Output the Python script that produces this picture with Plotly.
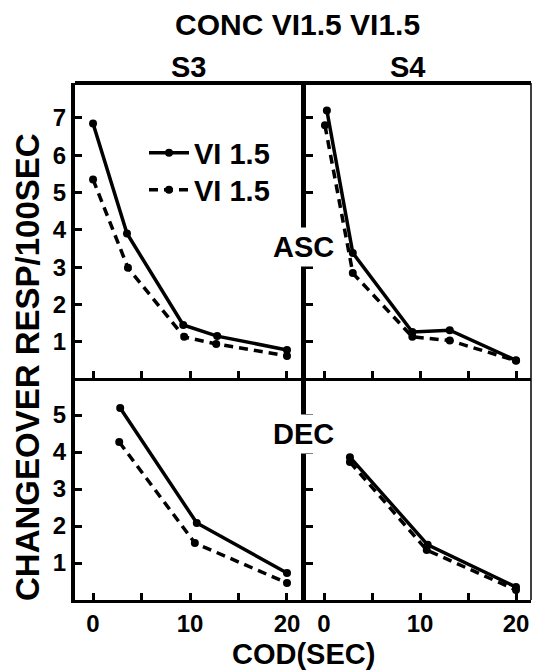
import plotly.graph_objects as go

# ---- data ----
series_names = ["VI 1.5", "VI 1.5"]

s3_asc_solid_x = [0, 3.5, 9.3, 12.8, 20]
s3_asc_solid_y = [6.85, 3.9, 1.45, 1.15, 0.78]
s3_asc_dash_x = [0, 3.6, 9.4, 12.7, 20]
s3_asc_dash_y = [5.35, 2.98, 1.13, 0.94, 0.62]

s4_asc_solid_x = [0.3, 3.0, 9.2, 13.1, 20]
s4_asc_solid_y = [7.2, 3.38, 1.26, 1.31, 0.5]
s4_asc_dash_x = [0.1, 3.0, 9.2, 13.1, 20]
s4_asc_dash_y = [6.8, 2.84, 1.13, 1.03, 0.49]

s3_dec_solid_x = [2.8, 10.7, 20]
s3_dec_solid_y = [5.19, 2.08, 0.73]
s3_dec_dash_x = [2.7, 10.5, 20]
s3_dec_dash_y = [4.27, 1.54, 0.46]

s4_dec_solid_x = [2.7, 10.8, 20]
s4_dec_solid_y = [3.86, 1.49, 0.35]
s4_dec_dash_x = [2.7, 10.7, 20]
s4_dec_dash_y = [3.73, 1.35, 0.27]

x_tickvals = [0, 5, 10, 15, 20]
x_ticktext = ["0", "", "10", "", "20"]
y_top_ticks = [1, 2, 3, 4, 5, 6, 7]
y_bot_ticks = [1, 2, 3, 4, 5]

FONT = "Liberation Sans, Arial, sans-serif"
W, H = 533, 670
ML, MT, MR, MB = 75, 83, 2, 70
PW, PH = W - ML - MR, H - MT - MB   # 456 x 517


def px(sx):   # screen x -> paper
    return (sx - ML) / PW


def py(sy):   # screen y -> paper
    return 1 - (sy - MT) / PH


fig = go.Figure()

panels = [
    ("x", "y", s3_asc_solid_x, s3_asc_solid_y, s3_asc_dash_x, s3_asc_dash_y, True),
    ("x2", "y2", s4_asc_solid_x, s4_asc_solid_y, s4_asc_dash_x, s4_asc_dash_y, False),
    ("x3", "y3", s3_dec_solid_x, s3_dec_solid_y, s3_dec_dash_x, s3_dec_dash_y, False),
    ("x4", "y4", s4_dec_solid_x, s4_dec_solid_y, s4_dec_dash_x, s4_dec_dash_y, False),
]
for xa, ya, sx, sy, dx, dy, show in panels:
    fig.add_trace(go.Scatter(x=sx, y=sy, xaxis=xa, yaxis=ya, mode="lines+markers",
                             name=series_names[0], showlegend=show, legend="legend",
                             line=dict(color="black", width=3.5),
                             marker=dict(color="black", size=8), cliponaxis=False,
                             hoverinfo="skip"))
    fig.add_trace(go.Scatter(x=dx, y=dy, xaxis=xa, yaxis=ya, mode="lines+markers",
                             name=series_names[1], showlegend=show, legend="legend2",
                             line=dict(color="black", width=3.5, dash="9px,6px"),
                             marker=dict(color="black", size=8), cliponaxis=False,
                             hoverinfo="skip"))

XSPLIT = (306 - ML) / PW
YSPLIT = 1 - (378 - MT) / PH

tickfont = dict(family=FONT, size=24, color="black", weight="bold")
common_x = dict(tickmode="array", tickvals=x_tickvals, ticks="inside", ticklen=7,
                tickwidth=3, tickcolor="black", showline=True, linecolor="black",
                showgrid=False, zeroline=False, fixedrange=True, tickfont=tickfont)
common_y = dict(ticks="inside", ticklen=7, tickwidth=3, tickcolor="black",
                showline=True, linecolor="black", showgrid=False, zeroline=False,
                fixedrange=True, tickfont=tickfont)

legfont = dict(family=FONT, size=29, color="black", weight="bold")
fig.update_layout(
    width=W, height=H,
    margin=dict(l=ML, r=MR, t=MT, b=MB),
    paper_bgcolor="white", plot_bgcolor="white",
    font=dict(family=FONT, color="black"),
    hovermode=False,
    xaxis=dict(domain=[0, XSPLIT], anchor="y", range=[-1.86, 21.96],
               showticklabels=False, linewidth=3, **common_x),
    xaxis2=dict(domain=[XSPLIT, 1], anchor="y2", range=[-1.875, 21.56],
                showticklabels=False, linewidth=3, **common_x),
    xaxis3=dict(domain=[0, XSPLIT], anchor="y3", range=[-1.86, 21.96],
                ticktext=x_ticktext, linewidth=3, **common_x),
    xaxis4=dict(domain=[XSPLIT, 1], anchor="y4", range=[-1.875, 21.56],
                ticktext=x_ticktext, linewidth=3, **common_x),
    yaxis=dict(domain=[YSPLIT, 1], anchor="x", range=[0.027, 7.936],
               tickmode="array", tickvals=y_top_ticks, linewidth=4, **common_y),
    yaxis2=dict(domain=[YSPLIT, 1], anchor="x2", range=[0.027, 7.936],
                tickmode="array", tickvals=y_top_ticks, showticklabels=False,
                linewidth=5, **common_y),
    yaxis3=dict(domain=[0, YSPLIT], anchor="x3", range=[0, 6.0],
                tickmode="array", tickvals=y_bot_ticks, linewidth=4, **common_y),
    yaxis4=dict(domain=[0, YSPLIT], anchor="x4", range=[0, 6.0],
                tickmode="array", tickvals=y_bot_ticks, showticklabels=False,
                linewidth=5, **common_y),
    legend=dict(x=px(144), y=py(153), xanchor="left", yanchor="middle",
                bgcolor="rgba(0,0,0,0)", borderwidth=0, font=legfont, itemwidth=40),
    legend2=dict(x=px(144), y=py(190), xanchor="left", yanchor="middle",
                 bgcolor="rgba(0,0,0,0)", borderwidth=0, font=legfont, itemwidth=40),
    showlegend=True,
)

# frame: thick top edge and thin right edge
fig.add_shape(type="line", xref="paper", yref="paper", x0=0, x1=1, y0=1, y1=1,
              line=dict(color="black", width=4))
fig.add_shape(type="line", xref="paper", yref="paper", x0=1, x1=1, y0=0, y1=1,
              line=dict(color="black", width=1.5))

annos = [
    dict(text="CONC VI1.5 VI1.5", x=297, y=24, size=30),
    dict(text="S3", x=188, y=67, size=29),
    dict(text="S4", x=407, y=67, size=29),
    dict(text="COD(SEC)", x=303, y=654, size=29),
]
for a in annos:
    fig.add_annotation(text=a["text"], xref="paper", yref="paper",
                       x=px(a["x"]), y=py(a["y"]),
                       xanchor="center", yanchor="middle", showarrow=False,
                       font=dict(family=FONT, size=a["size"], color="black",
                                 weight="bold"))

fig.add_annotation(text="CHANGEOVER RESP/100SEC", xref="paper", yref="paper",
                   x=px(27), y=py(367), textangle=-90,
                   xanchor="center", yanchor="middle", showarrow=False,
                   font=dict(family=FONT, size=33, color="black", weight="bold"))

for txt, yy in [("ASC", 247), ("DEC", 434)]:
    fig.add_annotation(text=txt, xref="paper", yref="paper",
                       x=px(303), y=py(yy),
                       xanchor="center", yanchor="middle", showarrow=False,
                       bgcolor="white", borderpad=3,
                       font=dict(family=FONT, size=29, color="black", weight="bold"))

# remove the page's default 8px body margin so the 533x670 figure fits exactly
fig.write_html("out.html",
               config={"displayModeBar": False, "staticPlot": True},
               post_script="document.body.style.margin='0px';"
                           "document.body.style.overflow='hidden';")
